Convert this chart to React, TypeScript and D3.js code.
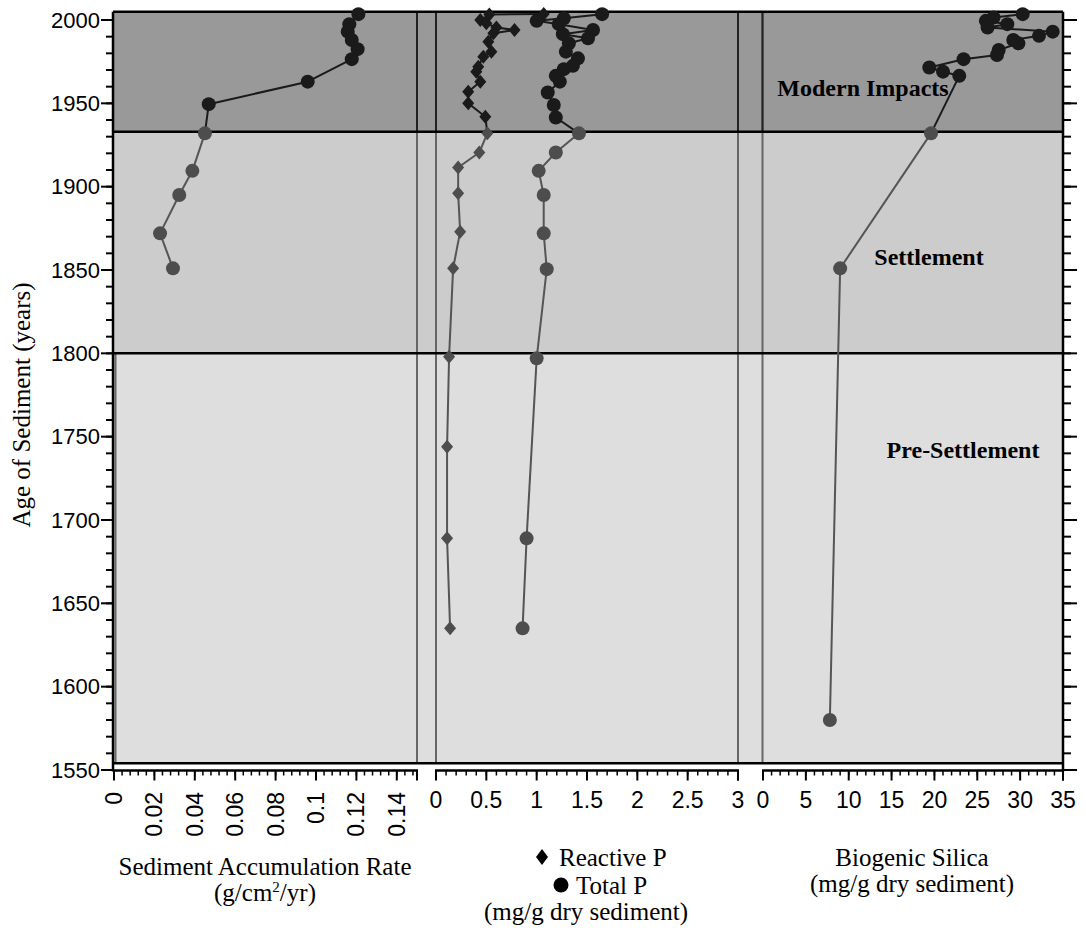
import React from "react";
import * as d3 from "d3";

const W = 1086;
const H = 951;

// Sediment accumulation rate (g/cm2/yr) by age
const rateYears = [2003.5, 1997.5, 1993, 1988, 1982.5, 1976.5, 1963, 1949.5, 1932, 1909.5, 1895, 1872, 1851];
const rateValues = [0.121, 0.1165, 0.1157, 0.1177, 0.1206, 0.1177, 0.0959, 0.0469, 0.045, 0.0388, 0.0323, 0.0228, 0.0292];

// Reactive phosphorus (mg/g dry sediment)
const reactiveYears = [2003.6, 2003.3, 2000, 1998, 1995.5, 1994, 1992, 1987, 1981, 1978, 1972, 1969, 1963, 1957, 1950, 1942, 1932, 1920.5, 1911.5, 1896, 1873, 1851, 1798, 1744, 1689, 1635];
const reactiveValues = [1.07, 0.53, 0.44, 0.5, 0.6, 0.78, 0.57, 0.52, 0.55, 0.47, 0.42, 0.4, 0.44, 0.32, 0.32, 0.49, 0.51, 0.43, 0.22, 0.22, 0.24, 0.17, 0.13, 0.11, 0.11, 0.14];

// Total phosphorus (mg/g dry sediment)
const totalYears = [2003.5, 2001, 1999.5, 1997.5, 1994, 1991.5, 1989, 1986, 1981, 1977, 1972.5, 1970.5, 1966.5, 1963, 1956.5, 1949, 1941.5, 1932, 1920.5, 1909.5, 1895, 1872, 1850.5, 1797, 1689, 1635];
const totalValues = [1.65, 1.27, 1.0, 1.22, 1.56, 1.26, 1.51, 1.32, 1.29, 1.41, 1.36, 1.27, 1.19, 1.23, 1.11, 1.17, 1.19, 1.42, 1.19, 1.02, 1.07, 1.07, 1.1, 1.0, 0.9, 0.86];

// Biogenic silica (mg/g dry sediment)
const silicaYears = [2003.5, 2001.5, 1999.5, 1997.5, 1995.5, 1993, 1990.5, 1988, 1986, 1982, 1979, 1976.5, 1971.5, 1969, 1966.5, 1932, 1851, 1580];
const silicaValues = [30.3, 26.9, 26.0, 28.5, 26.2, 33.8, 32.2, 29.2, 29.8, 27.5, 27.3, 23.4, 19.4, 21.0, 22.9, 19.6, 9.0, 7.8];

// Historical periods: names and age boundaries (top to bottom)
const periodNames = ["Modern Impacts", "Settlement", "Pre-Settlement"];
const periodEdges = [2005, 1933, 1800, 1554];
const periodFills = ["#999999", "#cccccc", "#dedede"];

// Axis ticks
const yearTicks = [1550, 1600, 1650, 1700, 1750, 1800, 1850, 1900, 1950, 2000];
const rateTicks = [0, 0.02, 0.04, 0.06, 0.08, 0.1, 0.12, 0.14];
const phosTicks = [0, 0.5, 1, 1.5, 2, 2.5, 3];
const silicaTicks = [0, 5, 10, 15, 20, 25, 30, 35];

const SERIF = '"Liberation Serif", "Times New Roman", Times, serif';
const SANS = '"Liberation Sans", Arial, Helvetica, sans-serif';

const DARK = "#1a1a1a";
const GREY = "#4d4d4d";

const y = d3.scaleLinear().domain([1550, 2000]).range([770, 20]);
const xRate = d3.scaleLinear().domain([0, 0.15]).range([114, 417]);
const xPhos = d3.scaleLinear().domain([0, 3]).range([436, 738]);
const xSil = d3.scaleLinear().domain([0, 35]).range([763, 1063]);

const LEFT = 113;
const RIGHT = 1063;
const AXIS_Y = 770.5;
const modernEdge = periodEdges[1];

const tone = (year: number) => (year >= modernEdge ? DARK : GREY);

function diamondPath(cx: number, cy: number, w: number, h: number) {
  return `M${cx},${cy - h}L${cx + w},${cy}L${cx},${cy + h}L${cx - w},${cy}Z`;
}

function Series({
  years,
  values,
  x,
  marker,
}: {
  years: number[];
  values: number[];
  x: d3.ScaleLinear<number, number>;
  marker: "circle" | "diamond";
}) {
  const pts = years.map((yr, i) => ({ yr, px: x(values[i]), py: y(yr) }));
  return (
    <g>
      {pts.slice(0, -1).map((p, i) => {
        const q = pts[i + 1];
        return (
          <line
            key={"s" + i}
            x1={p.px}
            y1={p.py}
            x2={q.px}
            y2={q.py}
            stroke={p.yr >= modernEdge ? DARK : "#555555"}
            strokeWidth={2}
          />
        );
      })}
      {pts.map((p, i) =>
        marker === "circle" ? (
          <circle key={"m" + i} cx={p.px} cy={p.py} r={7} fill={tone(p.yr)} />
        ) : (
          <path key={"m" + i} d={diamondPath(p.px, p.py, 6, 7)} fill={tone(p.yr)} />
        )
      )}
    </g>
  );
}

function XAxis({
  x,
  ticks,
  minorStep,
  rotate,
  fmt,
}: {
  x: d3.ScaleLinear<number, number>;
  ticks: number[];
  minorStep: number;
  rotate?: boolean;
  fmt: (v: number) => string;
}) {
  const [d0, d1] = x.domain();
  const minor = d3.range(d0, d1 + minorStep / 2, minorStep);
  const [r0, r1] = x.range();
  return (
    <g>
      <line x1={r0 - 1} x2={r1 + 1} y1={AXIS_Y} y2={AXIS_Y} stroke="#000" strokeWidth={2.5} />
      {minor.map((v, i) => (
        <line key={"n" + i} x1={x(v)} x2={x(v)} y1={AXIS_Y} y2={AXIS_Y + 5} stroke="#000" strokeWidth={1.5} />
      ))}
      {ticks.map((v, i) => (
        <line key={"t" + i} x1={x(v)} x2={x(v)} y1={AXIS_Y} y2={AXIS_Y + 10} stroke="#000" strokeWidth={2} />
      ))}
      <line x1={r1} x2={r1} y1={AXIS_Y} y2={AXIS_Y + 10} stroke="#000" strokeWidth={2} />
      {ticks.map((v, i) =>
        rotate ? (
          <text
            key={"l" + i}
            transform={`translate(${x(v)},${792}) rotate(-90)`}
            textAnchor="end"
            dominantBaseline="central"
            fontFamily={SANS}
            fontSize={23}
            fill="#000"
          >
            {fmt(v)}
          </text>
        ) : (
          <text
            key={"l" + i}
            x={x(v)}
            y={808}
            textAnchor="middle"
            fontFamily={SANS}
            fontSize={23}
            fill="#000"
          >
            {fmt(v)}
          </text>
        )
      )}
    </g>
  );
}

export default function App() {
  const yearMinor = d3.range(1550, 2001, 10);
  const edgesX = [417, 436, 738, 762.5];
  const labelPos = [
    { x: 863, y: 96 },
    { x: 929, y: 265 },
    { x: 963, y: 458 },
  ];

  return (
    <svg
      width={W}
      height={H}
      viewBox={`0 0 ${W} ${H}`}
      style={{ position: "absolute", left: 0, top: 0, background: "#fff" }}
    >
      {/* period bands */}
      {periodNames.map((name, i) => (
        <rect
          key={name}
          x={LEFT}
          y={y(periodEdges[i])}
          width={RIGHT - LEFT}
          height={y(periodEdges[i + 1]) - y(periodEdges[i])}
          fill={periodFills[i]}
        />
      ))}

      {/* panel edges: grey, black within the modern band */}
      {edgesX.map((ex) => (
        <g key={"e" + ex}>
          <line x1={ex} x2={ex} y1={y(periodEdges[0])} y2={y(periodEdges[3])} stroke="#666" strokeWidth={2} />
          <line x1={ex} x2={ex} y1={y(periodEdges[0])} y2={y(periodEdges[1])} stroke="#222" strokeWidth={2} />
        </g>
      ))}
      <line x1={115.5} x2={115.5} y1={y(periodEdges[2])} y2={y(periodEdges[3])} stroke="#666" strokeWidth={2} />

      {/* period boundaries and frame */}
      {periodEdges.map((yr, i) => (
        <line key={"b" + i} x1={LEFT} x2={RIGHT} y1={y(yr)} y2={y(yr)} stroke="#000" strokeWidth={2.5} />
      ))}

      {/* left age axis */}
      <line x1={LEFT} x2={LEFT} y1={y(periodEdges[0])} y2={AXIS_Y + 1} stroke="#000" strokeWidth={2.5} />
      {yearMinor.map((v) => (
        <line key={"ly" + v} x1={LEFT - 7} x2={LEFT} y1={y(v)} y2={y(v)} stroke="#000" strokeWidth={2} />
      ))}
      {yearTicks.map((v) => (
        <line key={"lY" + v} x1={LEFT - 12} x2={LEFT} y1={y(v)} y2={y(v)} stroke="#000" strokeWidth={2} />
      ))}
      {yearTicks.map((v) => (
        <text
          key={"lt" + v}
          x={LEFT - 13}
          y={y(v)}
          textAnchor="end"
          dominantBaseline="central"
          fontFamily={SANS}
          fontSize={22}
          fill="#000"
        >
          {v}
        </text>
      ))}

      {/* right age axis */}
      <line x1={RIGHT} x2={RIGHT} y1={y(periodEdges[0])} y2={AXIS_Y + 1} stroke="#000" strokeWidth={2.5} />
      {yearMinor.map((v) => (
        <line key={"ry" + v} x1={RIGHT} x2={RIGHT + 8} y1={y(v)} y2={y(v)} stroke="#000" strokeWidth={2} />
      ))}
      {yearTicks.map((v) => (
        <line key={"rY" + v} x1={RIGHT} x2={RIGHT + 14} y1={y(v)} y2={y(v)} stroke="#000" strokeWidth={2} />
      ))}

      {/* bottom axes */}
      <XAxis x={xRate} ticks={rateTicks} minorStep={0.004} rotate fmt={(v) => String(v)} />
      <XAxis x={xPhos} ticks={phosTicks} minorStep={0.1} fmt={(v) => String(v)} />
      <XAxis x={xSil} ticks={silicaTicks} minorStep={1} fmt={(v) => String(v)} />

      {/* period labels */}
      {periodNames.map((name, i) => (
        <text
          key={"pl" + name}
          x={labelPos[i].x}
          y={labelPos[i].y}
          textAnchor="middle"
          fontFamily={SERIF}
          fontWeight="bold"
          fontSize={24}
          fill="#000"
        >
          {name}
        </text>
      ))}

      {/* data */}
      <Series years={rateYears} values={rateValues} x={xRate} marker="circle" />
      <Series years={reactiveYears} values={reactiveValues} x={xPhos} marker="diamond" />
      <Series years={totalYears} values={totalValues} x={xPhos} marker="circle" />
      <Series years={silicaYears} values={silicaValues} x={xSil} marker="circle" />

      {/* axis titles */}
      <text
        transform="translate(30,405) rotate(-90)"
        textAnchor="middle"
        fontFamily={SERIF}
        fontSize={25}
        fill="#000"
      >
        Age of Sediment (years)
      </text>

      <g fontFamily={SERIF} fontSize={25} fill="#000" textAnchor="middle">
        <text x={265} y={875}>Sediment Accumulation Rate</text>
        <text x={265} y={901}>
          (g/cm<tspan dy={-9} fontSize={15}>2</tspan>
          <tspan dy={9}>/yr)</tspan>
        </text>

        <path d={diamondPath(542, 857, 6, 8)} fill="#000" />
        <text x={559} y={866} textAnchor="start">Reactive P</text>
        <circle cx={561} cy={885} r={7.5} fill="#000" />
        <text x={576} y={894} textAnchor="start">Total P</text>
        <text x={586} y={920}>(mg/g dry sediment)</text>

        <text x={912} y={866}>Biogenic Silica</text>
        <text x={912} y={892}>(mg/g dry sediment)</text>
      </g>
    </svg>
  );
}
